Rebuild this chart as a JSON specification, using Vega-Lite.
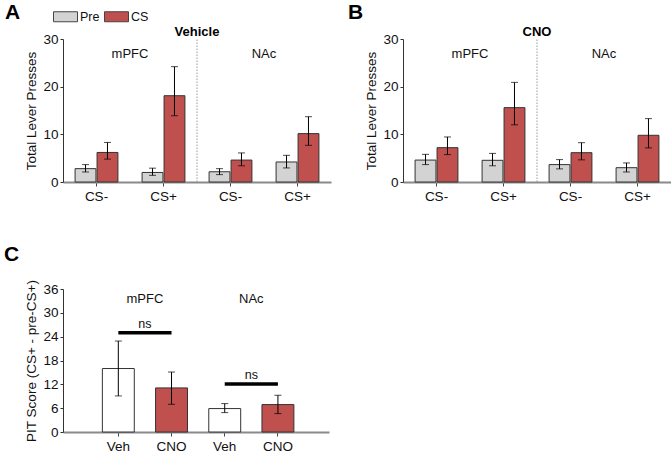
{
  "$schema": "https://vega.github.io/schema/vega-lite/v6.json",
  "padding": {"left": 4, "top": 2, "right": 0, "bottom": 0},
  "config": {
    "font": "Liberation Sans",
    "view": {"stroke": null},
    "axisY": {"domainColor": "#333", "tickColor": "#333", "tickSize": 3, "labelFontSize": 13.5, "labelColor": "#111", "labelOverlap": false, "titleFontSize": 13.5, "titleFontWeight": "normal", "titleColor": "#111", "grid": false, "labelPadding": 2, "titlePadding": 4},
    "axisX": {"domainColor": "#8a8a8a", "domainWidth": 2, "tickColor": "#444", "tickSize": 4, "labelFontSize": 13.5, "labelColor": "#111", "labelAngle": 0, "labelPadding": 3, "grid": false},
    "title": {"color": "#000"}
  },
  "datasets": {
    "lever": [
      {"drug": "Vehicle", "cond": "mPFC|CS-", "phase": "Pre", "v": 2.8, "lo": 2.1, "hi": 3.65},
      {"drug": "Vehicle", "cond": "mPFC|CS-", "phase": "CS", "v": 6.2, "lo": 4.8, "hi": 8.3},
      {"drug": "Vehicle", "cond": "mPFC|CS+", "phase": "Pre", "v": 2.0, "lo": 1.4, "hi": 2.9},
      {"drug": "Vehicle", "cond": "mPFC|CS+", "phase": "CS", "v": 18.1, "lo": 13.9, "hi": 24.2},
      {"drug": "Vehicle", "cond": "NAc|CS-", "phase": "Pre", "v": 2.15, "lo": 1.55, "hi": 2.8},
      {"drug": "Vehicle", "cond": "NAc|CS-", "phase": "CS", "v": 4.6, "lo": 3.4, "hi": 6.1},
      {"drug": "Vehicle", "cond": "NAc|CS+", "phase": "Pre", "v": 4.2, "lo": 2.95, "hi": 5.6},
      {"drug": "Vehicle", "cond": "NAc|CS+", "phase": "CS", "v": 10.15, "lo": 7.7, "hi": 13.7},
      {"drug": "CNO", "cond": "mPFC|CS-", "phase": "Pre", "v": 4.6, "lo": 3.65, "hi": 5.8},
      {"drug": "CNO", "cond": "mPFC|CS-", "phase": "CS", "v": 7.2, "lo": 5.75, "hi": 9.45},
      {"drug": "CNO", "cond": "mPFC|CS+", "phase": "Pre", "v": 4.55, "lo": 3.4, "hi": 6.0},
      {"drug": "CNO", "cond": "mPFC|CS+", "phase": "CS", "v": 15.6, "lo": 12.0, "hi": 20.9},
      {"drug": "CNO", "cond": "NAc|CS-", "phase": "Pre", "v": 3.65, "lo": 2.75, "hi": 4.7},
      {"drug": "CNO", "cond": "NAc|CS-", "phase": "CS", "v": 6.15, "lo": 4.65, "hi": 8.25},
      {"drug": "CNO", "cond": "NAc|CS+", "phase": "Pre", "v": 3.0, "lo": 2.1, "hi": 4.0},
      {"drug": "CNO", "cond": "NAc|CS+", "phase": "CS", "v": 9.8, "lo": 7.15, "hi": 13.3}
    ],
    "pit": [
      {"cond": "mPFC|Veh", "treat": "Veh", "v": 15.98, "lo": 9.08, "hi": 22.9},
      {"cond": "mPFC|CNO", "treat": "CNO", "v": 11.1, "lo": 6.98, "hi": 15.1},
      {"cond": "NAc|Veh", "treat": "Veh", "v": 5.9, "lo": 4.88, "hi": 7.15},
      {"cond": "NAc|CNO", "treat": "CNO", "v": 6.9, "lo": 4.63, "hi": 9.25}
    ],
    "ns": [
      {"from": "mPFC|Veh", "to": "mPFC|CNO", "h": 25.0, "label": "ns"},
      {"from": "NAc|Veh", "to": "NAc|CNO", "h": 12.1, "label": "ns"}
    ]
  },
  "bounds": "flush",
  "columns": 2,
  "spacing": {"row": 107, "column": 72},
  "resolve": {"scale": {"fill": "independent"}, "legend": {"fill": "independent"}},
  "concat": [
    {
      "width": 268, "height": 143,
      "title": {"text": "A", "anchor": "start", "frame": "group", "dx": -58, "offset": -34, "fontSize": 21, "fontWeight": "bold", "baseline": "alphabetic"},
      "layer": [
        {
          "data": {"name": "lever"}, "transform": [{"filter": "datum.drug === 'Vehicle'"}],
          "mark": {"type": "bar", "stroke": "#333", "strokeWidth": 1},
          "encoding": {
            "x": {"field": "cond", "type": "nominal", "title": null, "scale": {"domain": ["mPFC|CS-", "mPFC|CS+", "NAc|CS-", "NAc|CS+"], "paddingInner": 0, "paddingOuter": 0}, "axis": {"labelExpr": "split(datum.value, '|')[1]"}},
            "xOffset": {"field": "phase", "type": "nominal", "scale": {"domain": ["Pre", "CS"], "paddingInner": 0.05, "paddingOuter": 0.55}},
            "y": {"field": "v", "type": "quantitative", "title": "Total Lever Presses", "scale": {"domain": [0, 30], "nice": false}, "axis": {"values": [0, 10, 20, 30], "labelOverlap": false}},
            "fill": {"field": "phase", "type": "nominal", "scale": {"domain": ["Pre", "CS"], "range": ["#d3d3d3", "#c0504d"]},
              "legend": {"orient": "none", "legendX": -8, "legendY": -33, "direction": "horizontal", "title": null, "symbolType": "M-1.2,-0.5H1.2V0.5H-1.2Z", "symbolSize": 400, "symbolStrokeColor": "#444", "symbolStrokeWidth": 1, "labelFontSize": 12.5, "labelColor": "#111", "labelOffset": 4, "columnPadding": 2}}
          }
        },
        {
          "data": {"name": "lever"}, "transform": [{"filter": "datum.drug === 'Vehicle'"}],
          "mark": {"type": "rule", "color": "#000", "strokeWidth": 1},
          "encoding": {
            "x": {"field": "cond", "type": "nominal", "title": null, "scale": {"domain": ["mPFC|CS-", "mPFC|CS+", "NAc|CS-", "NAc|CS+"], "paddingInner": 0, "paddingOuter": 0}},
            "xOffset": {"field": "phase", "type": "nominal", "scale": {"domain": ["Pre", "CS"], "paddingInner": 0.05, "paddingOuter": 0.55}},
            "y": {"field": "lo", "type": "quantitative", "title": "Total Lever Presses"},
            "y2": {"field": "hi"}
          }
        },
        {
          "data": {"name": "lever"}, "transform": [{"filter": "datum.drug === 'Vehicle'"}],
          "mark": {"type": "tick", "color": "#000", "size": 7, "thickness": 1},
          "encoding": {
            "x": {"field": "cond", "type": "nominal", "title": null, "scale": {"domain": ["mPFC|CS-", "mPFC|CS+", "NAc|CS-", "NAc|CS+"], "paddingInner": 0, "paddingOuter": 0}},
            "xOffset": {"field": "phase", "type": "nominal", "scale": {"domain": ["Pre", "CS"], "paddingInner": 0.05, "paddingOuter": 0.55}},
            "y": {"field": "lo", "type": "quantitative", "title": "Total Lever Presses"}
          }
        },
        {
          "data": {"name": "lever"}, "transform": [{"filter": "datum.drug === 'Vehicle'"}],
          "mark": {"type": "tick", "color": "#000", "size": 7, "thickness": 1},
          "encoding": {
            "x": {"field": "cond", "type": "nominal", "title": null, "scale": {"domain": ["mPFC|CS-", "mPFC|CS+", "NAc|CS-", "NAc|CS+"], "paddingInner": 0, "paddingOuter": 0}},
            "xOffset": {"field": "phase", "type": "nominal", "scale": {"domain": ["Pre", "CS"], "paddingInner": 0.05, "paddingOuter": 0.55}},
            "y": {"field": "hi", "type": "quantitative", "title": "Total Lever Presses"}
          }
        },
        {
          "data": {"values": [{"cond": "NAc|CS-"}]},
          "mark": {"type": "rule", "color": "#999", "strokeWidth": 1, "strokeDash": [1.5, 1.5]},
          "encoding": {
            "x": {"field": "cond", "type": "nominal", "title": null, "bandPosition": 0, "scale": {"domain": ["mPFC|CS-", "mPFC|CS+", "NAc|CS-", "NAc|CS+"], "paddingInner": 0, "paddingOuter": 0}},
            "y": {"datum": 0, "title": "Total Lever Presses"},
            "y2": {"datum": 30}
          }
        },
        {
          "data": {"values": [{"cond": "mPFC|CS+", "label": "mPFC"}, {"cond": "NAc|CS+", "label": "NAc"}]},
          "mark": {"type": "text", "fontSize": 13, "baseline": "middle", "color": "#111"},
          "encoding": {
            "x": {"field": "cond", "type": "nominal", "title": null, "bandPosition": 0, "scale": {"domain": ["mPFC|CS-", "mPFC|CS+", "NAc|CS-", "NAc|CS+"], "paddingInner": 0, "paddingOuter": 0}},
            "y": {"datum": 26.8, "title": "Total Lever Presses"},
            "text": {"field": "label"}
          }
        },
        {
          "data": {"values": [{"cond": "NAc|CS-", "label": "Vehicle"}]},
          "mark": {"type": "text", "fontSize": 13, "fontWeight": "bold", "baseline": "middle", "color": "#000"},
          "encoding": {
            "x": {"field": "cond", "type": "nominal", "title": null, "bandPosition": 0, "scale": {"domain": ["mPFC|CS-", "mPFC|CS+", "NAc|CS-", "NAc|CS+"], "paddingInner": 0, "paddingOuter": 0}},
            "y": {"datum": 31.5, "title": "Total Lever Presses"},
            "text": {"field": "label"}
          }
        }
      ]
    },
    {
      "width": 268, "height": 143,
      "title": {"text": "B", "anchor": "start", "frame": "group", "dx": -55, "offset": -14.5, "fontSize": 21, "fontWeight": "bold", "baseline": "alphabetic"},
      "layer": [
        {
          "data": {"name": "lever"}, "transform": [{"filter": "datum.drug === 'CNO'"}],
          "mark": {"type": "bar", "stroke": "#333", "strokeWidth": 1},
          "encoding": {
            "x": {"field": "cond", "type": "nominal", "title": null, "scale": {"domain": ["mPFC|CS-", "mPFC|CS+", "NAc|CS-", "NAc|CS+"], "paddingInner": 0, "paddingOuter": 0}, "axis": {"labelExpr": "split(datum.value, '|')[1]"}},
            "xOffset": {"field": "phase", "type": "nominal", "scale": {"domain": ["Pre", "CS"], "paddingInner": 0.05, "paddingOuter": 0.55}},
            "y": {"field": "v", "type": "quantitative", "title": "Total Lever Presses", "scale": {"domain": [0, 30], "nice": false}, "axis": {"values": [0, 10, 20, 30], "labelOverlap": false}},
            "fill": {"field": "phase", "type": "nominal", "scale": {"domain": ["Pre", "CS"], "range": ["#d3d3d3", "#c0504d"]}, "legend": null}
          }
        },
        {
          "data": {"name": "lever"}, "transform": [{"filter": "datum.drug === 'CNO'"}],
          "mark": {"type": "rule", "color": "#000", "strokeWidth": 1},
          "encoding": {
            "x": {"field": "cond", "type": "nominal", "title": null, "scale": {"domain": ["mPFC|CS-", "mPFC|CS+", "NAc|CS-", "NAc|CS+"], "paddingInner": 0, "paddingOuter": 0}},
            "xOffset": {"field": "phase", "type": "nominal", "scale": {"domain": ["Pre", "CS"], "paddingInner": 0.05, "paddingOuter": 0.55}},
            "y": {"field": "lo", "type": "quantitative", "title": "Total Lever Presses"},
            "y2": {"field": "hi"}
          }
        },
        {
          "data": {"name": "lever"}, "transform": [{"filter": "datum.drug === 'CNO'"}],
          "mark": {"type": "tick", "color": "#000", "size": 7, "thickness": 1},
          "encoding": {
            "x": {"field": "cond", "type": "nominal", "title": null, "scale": {"domain": ["mPFC|CS-", "mPFC|CS+", "NAc|CS-", "NAc|CS+"], "paddingInner": 0, "paddingOuter": 0}},
            "xOffset": {"field": "phase", "type": "nominal", "scale": {"domain": ["Pre", "CS"], "paddingInner": 0.05, "paddingOuter": 0.55}},
            "y": {"field": "lo", "type": "quantitative", "title": "Total Lever Presses"}
          }
        },
        {
          "data": {"name": "lever"}, "transform": [{"filter": "datum.drug === 'CNO'"}],
          "mark": {"type": "tick", "color": "#000", "size": 7, "thickness": 1},
          "encoding": {
            "x": {"field": "cond", "type": "nominal", "title": null, "scale": {"domain": ["mPFC|CS-", "mPFC|CS+", "NAc|CS-", "NAc|CS+"], "paddingInner": 0, "paddingOuter": 0}},
            "xOffset": {"field": "phase", "type": "nominal", "scale": {"domain": ["Pre", "CS"], "paddingInner": 0.05, "paddingOuter": 0.55}},
            "y": {"field": "hi", "type": "quantitative", "title": "Total Lever Presses"}
          }
        },
        {
          "data": {"values": [{"cond": "NAc|CS-"}]},
          "mark": {"type": "rule", "color": "#999", "strokeWidth": 1, "strokeDash": [1.5, 1.5]},
          "encoding": {
            "x": {"field": "cond", "type": "nominal", "title": null, "bandPosition": 0, "scale": {"domain": ["mPFC|CS-", "mPFC|CS+", "NAc|CS-", "NAc|CS+"], "paddingInner": 0, "paddingOuter": 0}},
            "y": {"datum": 0, "title": "Total Lever Presses"},
            "y2": {"datum": 30}
          }
        },
        {
          "data": {"values": [{"cond": "mPFC|CS+", "label": "mPFC"}, {"cond": "NAc|CS+", "label": "NAc"}]},
          "mark": {"type": "text", "fontSize": 13, "baseline": "middle", "color": "#111"},
          "encoding": {
            "x": {"field": "cond", "type": "nominal", "title": null, "bandPosition": 0, "scale": {"domain": ["mPFC|CS-", "mPFC|CS+", "NAc|CS-", "NAc|CS+"], "paddingInner": 0, "paddingOuter": 0}},
            "y": {"datum": 26.8, "title": "Total Lever Presses"},
            "text": {"field": "label"}
          }
        },
        {
          "data": {"values": [{"cond": "NAc|CS-", "label": "CNO"}]},
          "mark": {"type": "text", "fontSize": 13, "fontWeight": "bold", "baseline": "middle", "color": "#000"},
          "encoding": {
            "x": {"field": "cond", "type": "nominal", "title": null, "bandPosition": 0, "scale": {"domain": ["mPFC|CS-", "mPFC|CS+", "NAc|CS-", "NAc|CS+"], "paddingInner": 0, "paddingOuter": 0}},
            "y": {"datum": 31.5, "title": "Total Lever Presses"},
            "text": {"field": "label"}
          }
        }
      ]
    },
    {
      "width": 266, "height": 143,
      "title": {"text": "C", "anchor": "start", "frame": "group", "dx": -59, "offset": -3, "fontSize": 21, "fontWeight": "bold", "baseline": "alphabetic"},
      "layer": [
        {
          "data": {"name": "pit"},
          "mark": {"type": "bar", "stroke": "#333", "strokeWidth": 1, "width": {"band": 0.6}},
          "encoding": {
            "x": {"field": "cond", "type": "nominal", "title": null, "scale": {"domain": ["mPFC|Veh", "mPFC|CNO", "NAc|Veh", "NAc|CNO"], "paddingInner": 0, "paddingOuter": 0.5, "align": 0.54}, "axis": {"labelExpr": "split(datum.value, '|')[1]"}},
            "y": {"field": "v", "type": "quantitative", "title": "PIT Score (CS+ - pre-CS+)", "scale": {"domain": [0, 36], "nice": false}, "axis": {"values": [0, 6, 12, 18, 24, 30, 36], "labelOverlap": false, "tickCount": 7}},
            "fill": {"field": "treat", "type": "nominal", "scale": {"domain": ["Veh", "CNO"], "range": ["#ffffff", "#c0504d"]}, "legend": null}
          }
        },
        {
          "data": {"name": "pit"},
          "mark": {"type": "rule", "color": "#000", "strokeWidth": 1},
          "encoding": {
            "x": {"field": "cond", "type": "nominal", "title": null, "scale": {"domain": ["mPFC|Veh", "mPFC|CNO", "NAc|Veh", "NAc|CNO"], "paddingInner": 0, "paddingOuter": 0.5, "align": 0.54}},
            "y": {"field": "lo", "type": "quantitative", "title": "PIT Score (CS+ - pre-CS+)"},
            "y2": {"field": "hi"}
          }
        },
        {
          "data": {"name": "pit"},
          "mark": {"type": "tick", "color": "#000", "size": 7, "thickness": 1},
          "encoding": {
            "x": {"field": "cond", "type": "nominal", "title": null, "scale": {"domain": ["mPFC|Veh", "mPFC|CNO", "NAc|Veh", "NAc|CNO"], "paddingInner": 0, "paddingOuter": 0.5, "align": 0.54}},
            "y": {"field": "lo", "type": "quantitative", "title": "PIT Score (CS+ - pre-CS+)"}
          }
        },
        {
          "data": {"name": "pit"},
          "mark": {"type": "tick", "color": "#000", "size": 7, "thickness": 1},
          "encoding": {
            "x": {"field": "cond", "type": "nominal", "title": null, "scale": {"domain": ["mPFC|Veh", "mPFC|CNO", "NAc|Veh", "NAc|CNO"], "paddingInner": 0, "paddingOuter": 0.5, "align": 0.54}},
            "y": {"field": "hi", "type": "quantitative", "title": "PIT Score (CS+ - pre-CS+)"}
          }
        },
        {
          "data": {"name": "ns"},
          "mark": {"type": "rule", "color": "#000", "strokeWidth": 3.5},
          "encoding": {
            "x": {"field": "from", "type": "nominal", "title": null, "scale": {"domain": ["mPFC|Veh", "mPFC|CNO", "NAc|Veh", "NAc|CNO"], "paddingInner": 0, "paddingOuter": 0.5, "align": 0.54}},
            "x2": {"field": "to"},
            "y": {"field": "h", "type": "quantitative", "title": "PIT Score (CS+ - pre-CS+)"}
          }
        },
        {
          "data": {"name": "ns"},
          "mark": {"type": "text", "fontSize": 12.5, "baseline": "bottom", "dy": -2, "color": "#111"},
          "encoding": {
            "x": {"field": "to", "type": "nominal", "title": null, "bandPosition": 0, "scale": {"domain": ["mPFC|Veh", "mPFC|CNO", "NAc|Veh", "NAc|CNO"], "paddingInner": 0, "paddingOuter": 0.5, "align": 0.54}},
            "y": {"field": "h", "type": "quantitative", "title": "PIT Score (CS+ - pre-CS+)"},
            "text": {"field": "label"}
          }
        },
        {
          "data": {"values": [{"cond": "mPFC|CNO", "label": "mPFC"}, {"cond": "NAc|CNO", "label": "NAc"}]},
          "mark": {"type": "text", "fontSize": 13, "baseline": "middle", "color": "#111"},
          "encoding": {
            "x": {"field": "cond", "type": "nominal", "title": null, "bandPosition": 0, "scale": {"domain": ["mPFC|Veh", "mPFC|CNO", "NAc|Veh", "NAc|CNO"], "paddingInner": 0, "paddingOuter": 0.5, "align": 0.54}},
            "y": {"datum": 33.5, "title": "PIT Score (CS+ - pre-CS+)"},
            "text": {"field": "label"}
          }
        }
      ]
    }
  ]
}
